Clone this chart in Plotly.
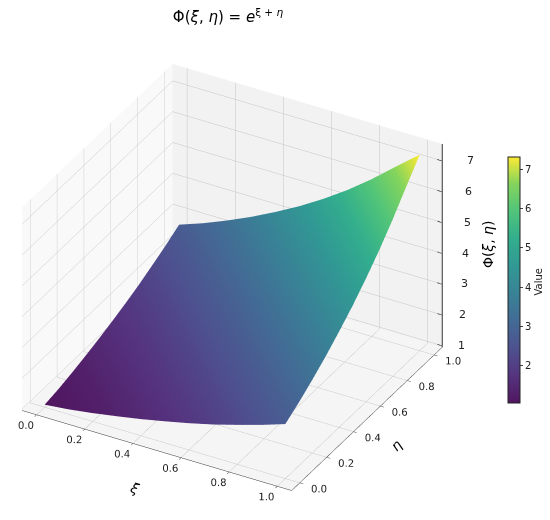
import plotly.graph_objects as go

xi = [0.0, 0.1, 0.2, 0.3, 0.4, 0.5, 0.6, 0.7, 0.8, 0.9, 1.0]
eta = [0.0, 0.1, 0.2, 0.3, 0.4, 0.5, 0.6, 0.7, 0.8, 0.9, 1.0]
phi = [
    [1.03, 1.11, 1.22, 1.35, 1.49, 1.65, 1.82, 2.01, 2.23, 2.46, 2.72],
    [1.11, 1.22, 1.35, 1.49, 1.65, 1.82, 2.01, 2.23, 2.46, 2.72, 3.00],
    [1.22, 1.35, 1.49, 1.65, 1.82, 2.01, 2.23, 2.46, 2.72, 3.00, 3.32],
    [1.35, 1.49, 1.65, 1.82, 2.01, 2.23, 2.46, 2.72, 3.00, 3.32, 3.67],
    [1.49, 1.65, 1.82, 2.01, 2.23, 2.46, 2.72, 3.00, 3.32, 3.67, 4.06],
    [1.65, 1.82, 2.01, 2.23, 2.46, 2.72, 3.00, 3.32, 3.67, 4.06, 4.48],
    [1.82, 2.01, 2.23, 2.46, 2.72, 3.00, 3.32, 3.67, 4.06, 4.48, 4.95],
    [2.01, 2.23, 2.46, 2.72, 3.00, 3.32, 3.67, 4.06, 4.48, 4.95, 5.47],
    [2.23, 2.46, 2.72, 3.00, 3.32, 3.67, 4.06, 4.48, 4.95, 5.47, 6.05],
    [2.46, 2.72, 3.00, 3.32, 3.67, 4.06, 4.48, 4.95, 5.47, 6.05, 6.69],
    [2.72, 3.00, 3.32, 3.67, 4.06, 4.48, 4.95, 5.47, 6.05, 6.69, 7.31],
]
xi_ticks = [0.0, 0.2, 0.4, 0.6, 0.8, 1.0]
eta_ticks = [0.0, 0.2, 0.4, 0.6, 0.8, 1.0]
phi_ticks = [1, 2, 3, 4, 5, 6, 7]
bar_ticks = [2, 3, 4, 5, 6, 7]
title_text = "Φ(<i>ξ</i>, <i>η</i>) = <i>e</i><sup>ξ + <i>η</i></sup>"
x_title = "<i>ξ</i>"
y_title = "<i>η</i>"
z_title = "Φ(<i>ξ</i>, <i>η</i>)"
bar_title = "Value"
FONT = "DejaVu Sans"
XR = [-0.06, 1.06]
YR = [-0.06, 1.06]
ZR = [0.95, 7.55]
# viridis softened towards white, as in a translucent surface
soft_viridis = [
    [0.0, "#511660"], [0.11, "#55337f"], [0.22, "#4e518f"], [0.33, "#436a95"],
    [0.44, "#398196"], [0.56, "#319994"], [0.67, "#32ae8d"], [0.78, "#51c47a"],
    [0.89, "#83d45d"], [1.0, "#fde934"],
]


def axis(ticks, fmt, rng, bg):
    return dict(
        title=dict(text=""),
        tickvals=ticks,
        tickformat=fmt,
        tickangle=0,
        range=rng,
        tickfont=dict(family=FONT, size=11, color="#222"),
        backgroundcolor=bg,
        showbackground=True,
        gridcolor="#c4c4c4",
        gridwidth=1,
        zeroline=False,
        showline=True,
        linecolor="#333",
        ticks="outside",
        ticklen=4,
        tickcolor="#333",
    )


fig = go.Figure()
fig.add_trace(
    go.Surface(
        x=xi,
        y=eta,
        z=phi,
        colorscale=soft_viridis,
        lighting=dict(ambient=1.0, diffuse=0.0, specular=0.0, roughness=1.0, fresnel=0.0),
        hoverinfo="skip",
        colorbar=dict(
            tickvals=bar_ticks,
            tickfont=dict(family=FONT, size=10, color="#222"),
            x=0.89,
            xanchor="left",
            y=0.476,
            yanchor="middle",
            len=0.5115,
            lenmode="fraction",
            thickness=12,
            outlinecolor="#222",
            outlinewidth=1,
            ticks="outside",
            ticklen=3,
        ),
    )
)

# vertical axis on the right-hand edge, drawn in the scene's own coordinates
tick_x, tick_y, tick_z = [XR[1], XR[1]], [YR[1], YR[1]], [ZR[0], ZR[1]]
for t in phi_ticks:
    tick_x += [None, XR[1] - 0.02, XR[1] + 0.03]
    tick_y += [None, YR[1], YR[1]]
    tick_z += [None, t, t]
fig.add_trace(
    go.Scatter3d(
        x=tick_x, y=tick_y, z=tick_z, mode="lines",
        line=dict(color="#333", width=2), hoverinfo="skip", showlegend=False,
    )
)

z_notes = [
    dict(x=XR[1], y=YR[1], z=t, text=str(t), showarrow=False, xshift=19 + 1.5 * (t - 1),
         font=dict(family=FONT, size=11, color="#222"))
    for t in phi_ticks
]
z_notes.append(
    dict(x=XR[1], y=YR[1], z=4.3, text=z_title, showarrow=False, xshift=46, textangle=-90,
         font=dict(family=FONT, size=14, color="#000"))
)
z_notes.append(
    dict(x=0.5, y=-0.05, z=1.0, text=x_title, showarrow=False, xshift=-24, yshift=-40,
         textangle=18, font=dict(family=FONT, size=14, color="#000"))
)
z_notes.append(
    dict(x=1.05, y=0.5, z=1.0, text=y_title, showarrow=False, xshift=32, yshift=-29,
         textangle=-46, font=dict(family=FONT, size=14, color="#000"))
)

zaxis = axis(phi_ticks, "d", ZR, "#f5f5f5")
zaxis.update(showticklabels=False, showline=False, ticks="")

fig.update_layout(
    width=550,
    height=520,
    margin=dict(l=0, r=0, t=0, b=0),
    paper_bgcolor="white",
    showlegend=False,
    title=dict(
        text=title_text,
        font=dict(family=FONT, size=15, color="#000"),
        x=0.4,
        xanchor="center",
        y=0.983,
        yanchor="middle",
    ),
    annotations=[
        dict(xref="paper", yref="paper", x=0.978, y=0.473, text=bar_title, textangle=-90,
             showarrow=False, font=dict(family=FONT, size=10, color="#222"))
    ],
    scene=dict(
        domain=dict(x=[0.0, 0.86], y=[0.012, 0.954]),
        xaxis=axis(xi_ticks, ".1f", XR, "#f9f9f9"),
        yaxis=axis(eta_ticks, ".1f", YR, "#f2f2f2"),
        zaxis=zaxis,
        aspectmode="manual",
        aspectratio=dict(x=1.26, y=1.26, z=0.98),
        annotations=z_notes,
        camera=dict(
            projection=dict(type="orthographic"),
            eye=dict(x=0.75, y=-1.24, z=0.91),
            center=dict(x=0.043, y=0.026, z=0),
            up=dict(x=0, y=0, z=1),
        ),
    ),
)

fig.write_html("out.html")
